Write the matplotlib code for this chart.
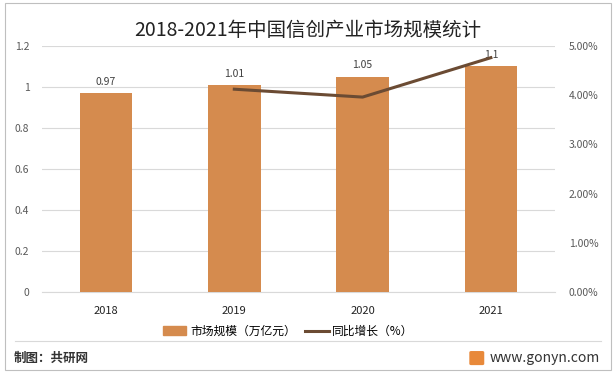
import matplotlib.pyplot as plt
from matplotlib.patches import Rectangle, FancyBboxPatch
from matplotlib.lines import Line2D

plt.rcParams['font.family'] = ['Noto Sans CJK SC', 'DejaVu Sans']

# data
years = ["2018", "2019", "2020", "2021"]
market_size = [0.97, 1.01, 1.05, 1.1]          # 万亿元
growth_years = ["2019", "2020", "2021"]
growth_rate = [4.12, 3.96, 4.76]                # %

bar_color = "#D58B4E"
line_color = "#6B4B33"
tick_color = "#595959"

fig = plt.figure(figsize=(6.16, 3.73), dpi=100)
ax = fig.add_axes([0.068, 0.217, 0.833, 0.66])
ax2 = ax.twinx()

x = list(range(len(years)))
ax.bar(x, market_size, width=0.41, color=bar_color, zorder=3)
for xi, v in zip(x, market_size):
    ax.text(xi, v + 0.03, f"{v:g}", ha="center", va="bottom", fontsize=7.5, color="#404040")

gx = [years.index(y) for y in growth_years]
ax2.plot(gx, growth_rate, color=line_color, linewidth=2.2, zorder=4)

ax.set_xlim(-0.5, 3.5)
ax.set_ylim(0, 1.2)
ax.set_yticks([0, 0.2, 0.4, 0.6, 0.8, 1.0, 1.2])
ax.set_yticklabels(["0", "0.2", "0.4", "0.6", "0.8", "1", "1.2"])
ax2.set_ylim(0, 5)
ax2.set_yticks([0, 1, 2, 3, 4, 5])
ax2.set_yticklabels([f"{v:.2f}%" for v in range(6)])
ax.set_xticks(x)
ax.set_xticklabels(years)

ax.grid(axis="y", color="#D9D9D9", linewidth=0.8, zorder=0)
for a in (ax, ax2):
    for s in a.spines.values():
        s.set_visible(False)
    a.tick_params(length=0, labelsize=7.5, colors=tick_color)
ax.tick_params(axis="x", colors="#222222", labelsize=8, pad=10)
ax.tick_params(axis="y", pad=9)
ax2.tick_params(axis="y", pad=10)
ax.spines["bottom"].set_visible(True)
ax.spines["bottom"].set_color("#D9D9D9")

fig.text(0.5, 0.918, "2018-2021年中国信创产业市场规模统计", ha="center", va="center",
         fontsize=14, color="#222222")

handles = [Rectangle((0, 0), 1, 1, color=bar_color),
           Line2D([0], [0], color=line_color, linewidth=2.2)]
fig.legend(handles, ["市场规模（万亿元）", "同比增长（%）"], loc="center",
           bbox_to_anchor=(0.468, 0.112), ncol=2, frameon=False, fontsize=8.5,
           handlelength=2.0, handleheight=0.7, columnspacing=0.8, handletextpad=0.3)

# frame and footer
fig.patches.append(Rectangle((0.008, 0.008), 0.984, 0.984, transform=fig.transFigure,
                             fill=False, edgecolor="#BFBFBF", linewidth=0.8))
fig.lines.append(Line2D([0.025, 0.975], [0.086, 0.086], transform=fig.transFigure,
                        color="#D9D9D9", linewidth=0.8))
fig.text(0.023, 0.04, "制图：共研网", ha="left", va="center", fontsize=9,
         fontweight="bold", color="#333333")
fig.patches.append(FancyBboxPatch((0.765, 0.025), 0.018, 0.03, boxstyle="round,pad=0.002",
                                  transform=fig.transFigure, color="#E8893A"))
fig.text(0.795, 0.04, "www.gonyn.com", ha="left", va="center", fontsize=10, color="#333333")

fig.savefig("out.png", dpi=100)
